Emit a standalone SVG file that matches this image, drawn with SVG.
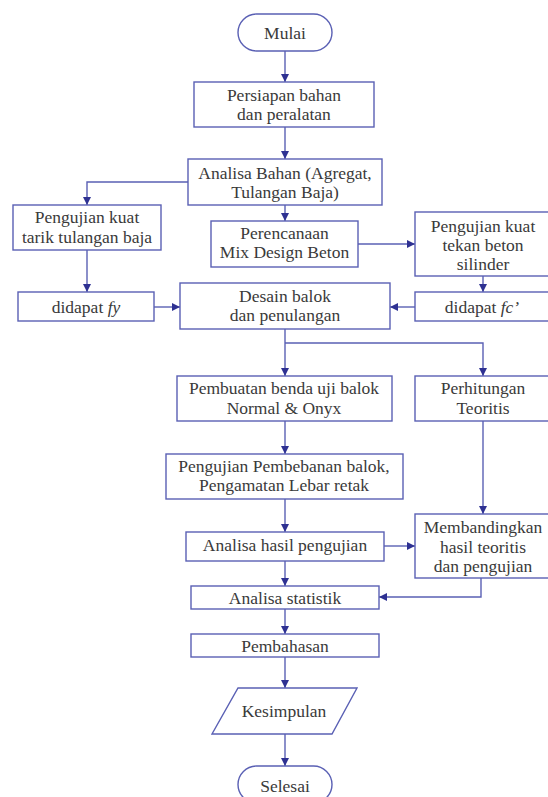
<svg xmlns="http://www.w3.org/2000/svg" width="548" height="797" viewBox="0 0 548 797">
<style>
.box{fill:#fff;stroke:#5a60b4;stroke-width:1.4}
.ln{fill:none;stroke:#5a60b4;stroke-width:1.4}
text{font-family:"Liberation Serif","DejaVu Serif",serif;font-size:17.5px;fill:#3a3a3a;text-anchor:middle}
.it{font-style:italic}
</style>
<defs>
<marker id="ah" viewBox="0 0 10 10" refX="10" refY="5" markerWidth="8" markerHeight="8.5" markerUnits="userSpaceOnUse" orient="auto">
<path d="M0,0 L10,5 L0,10 z" fill="#2e3192"/>
</marker>
</defs>
<rect width="548" height="797" fill="#fff"/>
<g id="connectors">
<path class="ln" d="M285,51 V82" marker-end="url(#ah)"/>
<path class="ln" d="M285,127 V159" marker-end="url(#ah)"/>
<path class="ln" d="M188,182 H87 V205" marker-end="url(#ah)"/>
<path class="ln" d="M285,205 V221" marker-end="url(#ah)"/>
<path class="ln" d="M87,250 V292" marker-end="url(#ah)"/>
<path class="ln" d="M358,244 H415" marker-end="url(#ah)"/>
<path class="ln" d="M483,276 V292" marker-end="url(#ah)"/>
<path class="ln" d="M154,307 H180" marker-end="url(#ah)"/>
<path class="ln" d="M415,307 H390" marker-end="url(#ah)"/>
<path class="ln" d="M285,329 V376" marker-end="url(#ah)"/>
<path class="ln" d="M285,343 H483 V376" marker-end="url(#ah)"/>
<path class="ln" d="M285,421 V454" marker-end="url(#ah)"/>
<path class="ln" d="M483,421 V514" marker-end="url(#ah)"/>
<path class="ln" d="M285,499 V532" marker-end="url(#ah)"/>
<path class="ln" d="M384,546 H415" marker-end="url(#ah)"/>
<path class="ln" d="M285,561 V586" marker-end="url(#ah)"/>
<path class="ln" d="M481,578 V597 H379" marker-end="url(#ah)"/>
<path class="ln" d="M285,609 V634" marker-end="url(#ah)"/>
<path class="ln" d="M285,657 V688" marker-end="url(#ah)"/>
<path class="ln" d="M285,734 V766" marker-end="url(#ah)"/>
</g>
<g id="mulai">
<rect class="box" x="238" y="14" width="94" height="37" rx="18.5"/>
<text x="285" y="39">Mulai</text>
</g>
<g id="persiapan">
<rect class="box" x="194" y="82" width="180" height="45"/>
<text x="284" y="101">Persiapan bahan</text>
<text x="284" y="120">dan peralatan</text>
</g>
<g id="analisa-bahan">
<rect class="box" x="188" y="159" width="194" height="46"/>
<text x="285" y="179">Analisa Bahan (Agregat,</text>
<text x="285" y="198">Tulangan Baja)</text>
</g>
<g id="uji-tarik">
<rect class="box" x="13" y="205" width="148" height="45"/>
<text x="87" y="223">Pengujian kuat</text>
<text x="87" y="243">tarik tulangan baja</text>
</g>
<g id="perencanaan">
<rect class="box" x="211" y="221" width="147" height="46"/>
<text x="284.5" y="239">Perencanaan</text>
<text x="284.5" y="258">Mix Design Beton</text>
</g>
<g id="uji-tekan">
<rect class="box" x="415" y="212" width="134" height="64"/>
<text x="483" y="232">Pengujian kuat</text>
<text x="483" y="251">tekan beton</text>
<text x="483" y="270">silinder</text>
</g>
<g id="fy">
<rect class="box" x="18" y="292" width="136" height="29"/>
<text x="86" y="313">didapat <tspan class="it">fy</tspan></text>
</g>
<g id="desain">
<rect class="box" x="180" y="283" width="210" height="46"/>
<text x="285" y="302">Desain balok</text>
<text x="285" y="321">dan penulangan</text>
</g>
<g id="fc">
<rect class="box" x="415" y="292" width="134" height="29"/>
<text x="482" y="313">didapat <tspan class="it">fc’</tspan></text>
</g>
<g id="pembuatan">
<rect class="box" x="177" y="376" width="215" height="45"/>
<text x="284" y="394">Pembuatan benda uji balok</text>
<text x="284" y="414">Normal &amp; Onyx</text>
</g>
<g id="perhitungan">
<rect class="box" x="415" y="376" width="134" height="45"/>
<text x="483" y="394">Perhitungan</text>
<text x="483" y="414">Teoritis</text>
</g>
<g id="pembebanan">
<rect class="box" x="166" y="454" width="237" height="45"/>
<text x="284" y="472">Pengujian Pembebanan balok,</text>
<text x="284" y="491">Pengamatan Lebar retak</text>
</g>
<g id="analisa-hasil">
<rect class="box" x="186" y="532" width="198" height="29"/>
<text x="285" y="551">Analisa hasil pengujian</text>
</g>
<g id="membandingkan">
<rect class="box" x="415" y="514" width="134" height="64"/>
<text x="483" y="533">Membandingkan</text>
<text x="483" y="553">hasil teoritis</text>
<text x="483" y="572">dan pengujian</text>
</g>
<g id="statistik">
<rect class="box" x="191" y="586" width="188" height="23"/>
<text x="285" y="604">Analisa statistik</text>
</g>
<g id="pembahasan">
<rect class="box" x="191" y="634" width="188" height="23"/>
<text x="285" y="652">Pembahasan</text>
</g>
<g id="kesimpulan">
<polygon class="box" points="238,688 357,688 332,734 212,734"/>
<text x="284" y="717">Kesimpulan</text>
</g>
<g id="selesai">
<rect class="box" x="238" y="766" width="94" height="37" rx="18.5"/>
<text x="285" y="792">Selesai</text>
</g>
</svg>
